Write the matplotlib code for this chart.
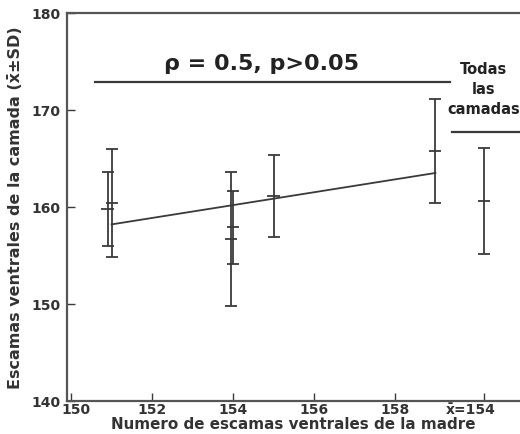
import matplotlib
matplotlib.use("Agg")
import matplotlib.pyplot as plt
import matplotlib.transforms as mtransforms

# camadas individuales: escamas de la madre, media y SD de la camada
madre_x = [150.9, 151.0, 153.95, 154.0, 155.0, 159.0]
camada_media = [159.8, 160.4, 156.7, 157.9, 161.1, 165.75]
camada_sd = [3.8, 5.6, 6.9, 3.75, 4.25, 5.35]

# todas las camadas juntas
todas_x = 160.2
todas_media = 160.6
todas_sd = 5.45

# recta de regresion
reg_x = [151.0, 159.0]
reg_y = [158.2, 163.5]

x_ticks = [150, 152, 154, 156, 158, todas_x]
x_labels = ["150", "152", "154", "156", "158", "x\u0304=154"]
y_ticks = [140, 150, 160, 170, 180]

ink = "#3a3a3a"

plt.rcParams["font.family"] = ["DejaVu Sans"]
plt.rcParams["font.weight"] = "bold"

fig = plt.figure(figsize=(5.2, 4.35), dpi=100)
ax = fig.add_axes([0.129, 0.076, 0.871, 0.892])

ax.errorbar(madre_x, camada_media, yerr=camada_sd, fmt="none", ecolor=ink,
            elinewidth=1.3, capsize=4.5, capthick=1.3)
ax.errorbar([todas_x], [todas_media], yerr=[todas_sd], fmt="none", ecolor=ink,
            elinewidth=1.3, capsize=4.5, capthick=1.3)
# marca de la media sobre cada barra
ax.errorbar(madre_x + [todas_x], camada_media + [todas_media], fmt="none",
            xerr=0.15, ecolor=ink, elinewidth=1.3)

ax.plot(reg_x, reg_y, color=ink, lw=1.3)

# lineas horizontales de separacion
ax.plot([150.6, 159.35], [172.9, 172.9], color=ink, lw=1.6)
ax.plot([159.42, 161.2], [167.7, 167.7], color=ink, lw=1.6, clip_on=False)

ax.text(154.7, 174.85, "\u03c1 = 0.5, p>0.05", ha="center", va="center",
        fontsize=16, fontweight="bold", color="#222")
ax.text(todas_x, 172.2, "Todas\nlas\ncamadas", ha="center", va="center",
        fontsize=10.5, fontweight="bold", color="#222", linespacing=1.45)

ax.set_xlim(149.9, 161.09)
ax.set_ylim(140, 180)
ax.set_xticks(x_ticks)
ax.set_xticklabels(x_labels)
ax.set_yticks(y_ticks)
ax.tick_params(direction="in", length=6, width=1, colors=ink, labelsize=10,
               labelcolor="#333")
ax.tick_params(axis="x", pad=1)
ax.tick_params(axis="y", pad=5)

# pequeños desplazamientos de etiquetas como en el original
xlabs = ax.get_xticklabels()
xlabs[0].set_transform(xlabs[0].get_transform() +
                       mtransforms.ScaledTranslation(5 / 100, 0, fig.dpi_scale_trans))
xlabs[-1].set_transform(xlabs[-1].get_transform() +
                        mtransforms.ScaledTranslation(-13 / 100, 0, fig.dpi_scale_trans))

for s in ["left", "top", "bottom"]:
    ax.spines[s].set_color("#555")
    ax.spines[s].set_linewidth(1.6)
ax.spines["right"].set_visible(False)

ax.set_xlabel("Numero de escamas ventrales de la madre", fontsize=10.9,
              fontweight="bold", color="#333", labelpad=0)
ax.set_ylabel("Escamas ventrales de la camada (x\u0304\u00b1SD)", fontsize=11.5,
              fontweight="bold", color="#333", labelpad=6)

fig.savefig("out.png", dpi=100)
